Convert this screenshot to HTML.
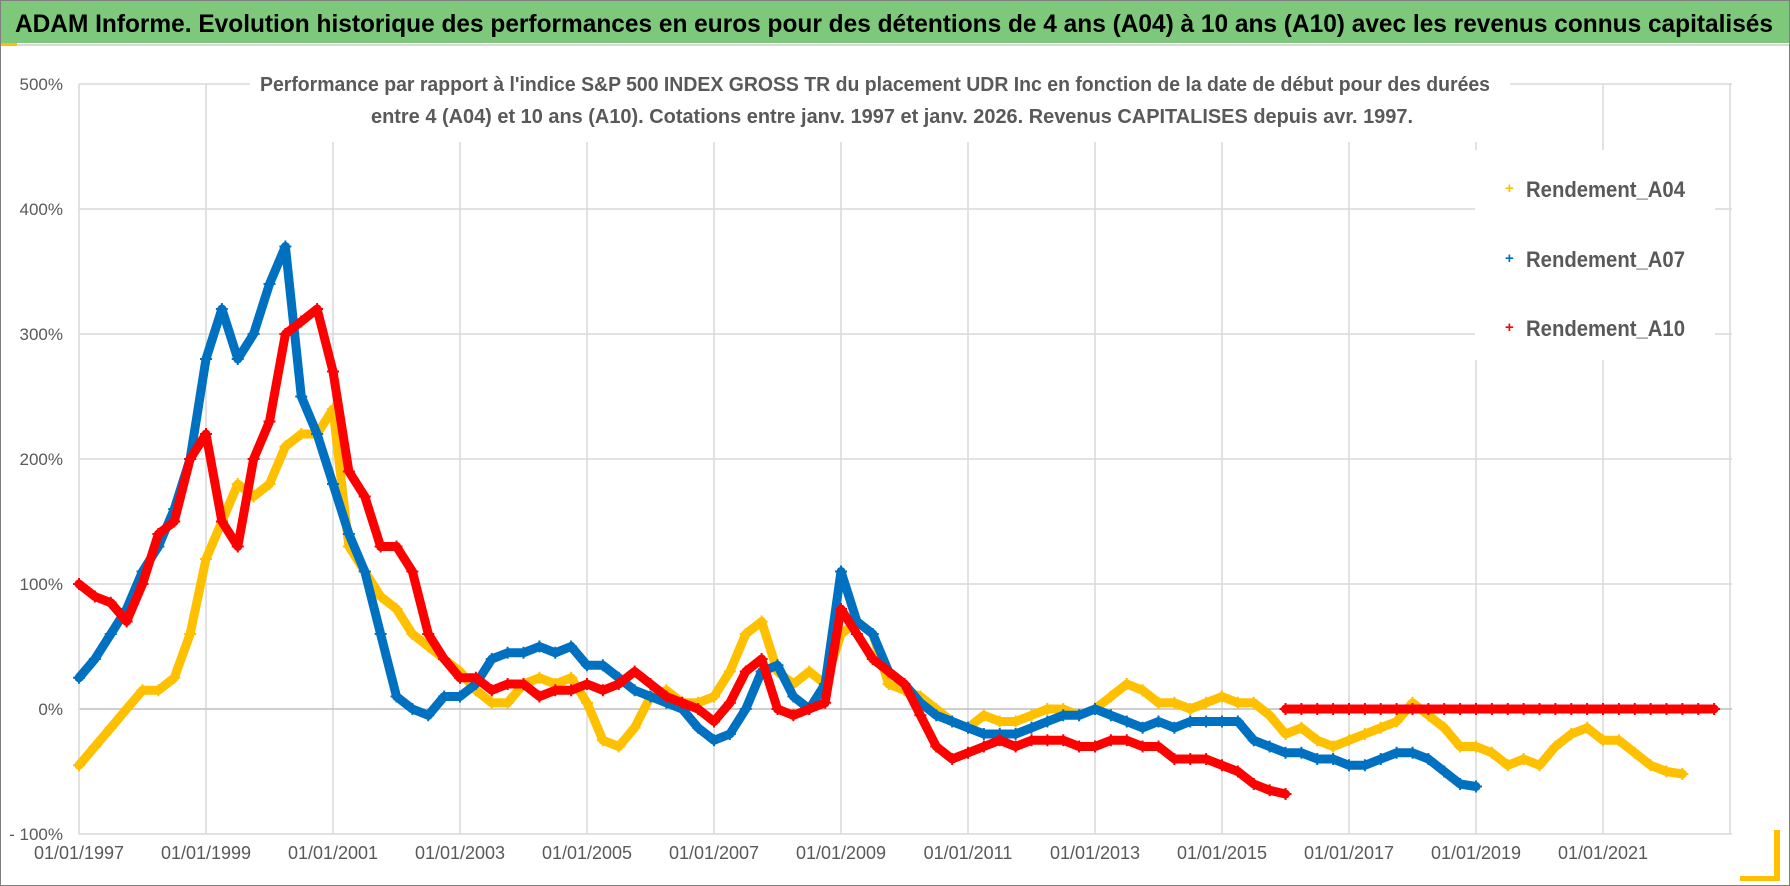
<!DOCTYPE html>
<html><head><meta charset="utf-8"><style>
html,body{margin:0;padding:0;background:#fff;}
svg{display:block;font-family:"Liberation Sans",sans-serif;}
</style></head><body>
<svg id="chart" width="1790" height="886" viewBox="0 0 1790 886">
<rect x="0" y="0" width="1790" height="886" fill="#fff"/>
<rect x="0.5" y="0.5" width="1789" height="885" fill="none" stroke="#7f7f7f"/>
<rect x="1" y="1" width="1788" height="42" fill="#7dc87b"/>
<text x="15" y="32" font-size="25" font-weight="bold" fill="#000" textLength="1758" lengthAdjust="spacingAndGlyphs">ADAM Informe. Evolution historique des performances en euros pour des détentions de 4 ans (A04) à 10 ans (A10) avec les revenus connus capitalisés</text>
<line x1="1" y1="45" x2="1789" y2="45" stroke="#d9d9d9" stroke-width="2"/>
<rect x="1" y="43" width="16" height="3" fill="#ffc000"/>
<g id="grid"></g>
<g id="axes"></g>
<rect x="250" y="62" width="1260" height="80" fill="#fff"/>
<text x="260" y="91" font-size="20" font-weight="bold" fill="#595959" textLength="1230" lengthAdjust="spacingAndGlyphs">Performance par rapport à l'indice S&amp;P 500 INDEX GROSS TR  du placement UDR Inc en fonction de la date de début pour des durées</text>
<text x="371" y="123" font-size="20" font-weight="bold" fill="#595959" textLength="1042" lengthAdjust="spacingAndGlyphs">entre 4 (A04) et 10 ans (A10).  Cotations entre janv. 1997 et janv. 2026. Revenus CAPITALISES depuis avr. 1997.</text>
<g id="series"></g>
<g id="legend">
<rect x="1475" y="150" width="240" height="210" fill="#fff"/>
<text x="1505" y="193" font-size="15" fill="#ffc000" font-weight="bold">+</text>
<text x="1526" y="197" font-size="22" font-weight="bold" fill="#595959" textLength="159" lengthAdjust="spacingAndGlyphs">Rendement_A04</text>
<text x="1505" y="263" font-size="15" fill="#0070c0" font-weight="bold">+</text>
<text x="1526" y="267" font-size="22" font-weight="bold" fill="#595959" textLength="159" lengthAdjust="spacingAndGlyphs">Rendement_A07</text>
<text x="1505" y="332" font-size="15" fill="#ff0000" font-weight="bold">+</text>
<text x="1526" y="336" font-size="22" font-weight="bold" fill="#595959" textLength="159" lengthAdjust="spacingAndGlyphs">Rendement_A10</text>
</g>
<rect x="1774" y="830" width="6" height="50" fill="#ffc000"/>
<rect x="1740" y="876" width="40" height="5" fill="#ffc000"/>
</svg>
<script>
const xTickLabels = ["01/01/1997","01/01/1999","01/01/2001","01/01/2003","01/01/2005","01/01/2007","01/01/2009","01/01/2011","01/01/2013","01/01/2015","01/01/2017","01/01/2019","01/01/2021"];
const xTickYears = [1997,1999,2001,2003,2005,2007,2009,2011,2013,2015,2017,2019,2021,2023];
const yTickValues = [-100,0,100,200,300,400,500];
const yTickLabels = ["- 100%","0%","100%","200%","300%","400%","500%"];
const a04Start = 1997.0;
const a04Values = [-45,-30,-15,0,15,15,25,60,120,150,180,170,180,210,220,220,240,130,110,90,80,60,50,40,30,15,5,5,20,25,20,25,5,-25,-30,-15,10,15,5,5,10,30,60,70,30,20,30,20,60,70,60,20,15,10,0,-10,-15,-5,-10,-10,-5,0,0,-5,0,10,20,15,5,5,0,5,10,5,5,-5,-20,-15,-25,-30,-25,-20,-15,-10,5,-5,-15,-30,-30,-35,-45,-40,-45,-30,-20,-15,-25,-25,-35,-45,-50,-52];
const a07Start = 1997.0;
const a07Values = [25,40,60,80,110,130,160,200,280,320,280,300,340,370,250,220,180,140,110,60,10,0,-5,10,10,20,40,45,45,50,45,50,35,35,25,15,10,5,0,-15,-25,-20,0,30,35,10,0,20,110,70,60,30,20,5,-5,-10,-15,-20,-20,-20,-15,-10,-5,-5,0,-5,-10,-15,-10,-15,-10,-10,-10,-10,-25,-30,-35,-35,-40,-40,-45,-45,-40,-35,-35,-40,-50,-60,-62];
const a10Start = 1997.0;
const a10Values = [100,90,85,70,100,140,150,200,220,150,130,200,230,300,310,320,270,190,170,130,130,110,60,40,25,25,15,20,20,10,15,15,20,15,20,30,20,10,5,0,-10,5,30,40,0,-5,0,5,80,60,40,30,20,-5,-30,-40,-35,-30,-25,-30,-25,-25,-25,-30,-30,-25,-25,-30,-30,-40,-40,-40,-45,-50,-60,-65,-68];
const a10ZeroStart = 2016.0;
const a10ZeroValues = [0,0,0,0,0,0,0,0,0,0,0,0,0,0,0,0,0,0,0,0,0,0,0,0,0,0,0,0];
const step = 0.25;

const NS="http://www.w3.org/2000/svg";
const X0=79, PX_PER_YEAR=63.5, Y0=709, PX_PER_PCT=1.25, RIGHT=1732;
function xs(yr){return X0+(yr-1997)*PX_PER_YEAR;}
function ys(v){return Y0-v*PX_PER_PCT;}
function mk(tag,attrs,parent){const e=document.createElementNS(NS,tag);for(const k in attrs)e.setAttribute(k,attrs[k]);parent.appendChild(e);return e;}
const grid=document.getElementById('grid'),axes=document.getElementById('axes'),series=document.getElementById('series');
xTickYears.forEach((yr,i)=>{
  if(i>0){const l=mk('line',{x1:xs(yr),x2:xs(yr),y1:ys(500),y2:ys(-100),stroke:'#d9d9d9','stroke-width':1.5},grid);
  
  }
  if(i<xTickLabels.length){const t=mk('text',{x:xs(yr),y:859,'text-anchor':'middle','font-size':18,fill:'#595959'},axes);
  t.textContent=xTickLabels[i];
  
  }
});
yTickValues.forEach((v,i)=>{
  const l=mk('line',{x1:X0,x2:RIGHT,y1:ys(v),y2:ys(v),stroke:v===0?'#bfbfbf':'#d9d9d9','stroke-width':1.5},grid);
  
  
  const t=mk('text',{x:63,y:ys(v)+6,'text-anchor':'end','font-size':17,fill:'#595959'},axes);
  t.textContent=yTickLabels[i];
  
  
});
const yl=mk('line',{x1:X0,x2:X0,y1:ys(500),y2:ys(-100),stroke:'#d9d9d9','stroke-width':1.5},grid);


function drawSeries(start,vals,color,name){
  const g=mk('g',{},series);
  
  
  const pts=vals.map((v,i)=>xs(start+i*step).toFixed(1)+','+ys(v).toFixed(1)).join(' ');
  mk('polyline',{points:pts,fill:'none',stroke:color,'stroke-width':9,'stroke-linejoin':'round','stroke-linecap':'round'},g);
  vals.forEach((v,i)=>{
    const x=xs(start+i*step),y=ys(v);
    const p=mk('path',{d:`M${x-6},${y}H${x+6}M${x},${y-6}V${y+6}`,stroke:color,'stroke-width':2},g);
    
    
  });
}
drawSeries(a04Start,a04Values,'#ffc000','series-a04');
drawSeries(a07Start,a07Values,'#0070c0','series-a07');
drawSeries(a10Start,a10Values,'#ff0000','series-a10');
drawSeries(a10ZeroStart,a10ZeroValues,'#ff0000','series-a10-zero');
</script>
</body></html>
